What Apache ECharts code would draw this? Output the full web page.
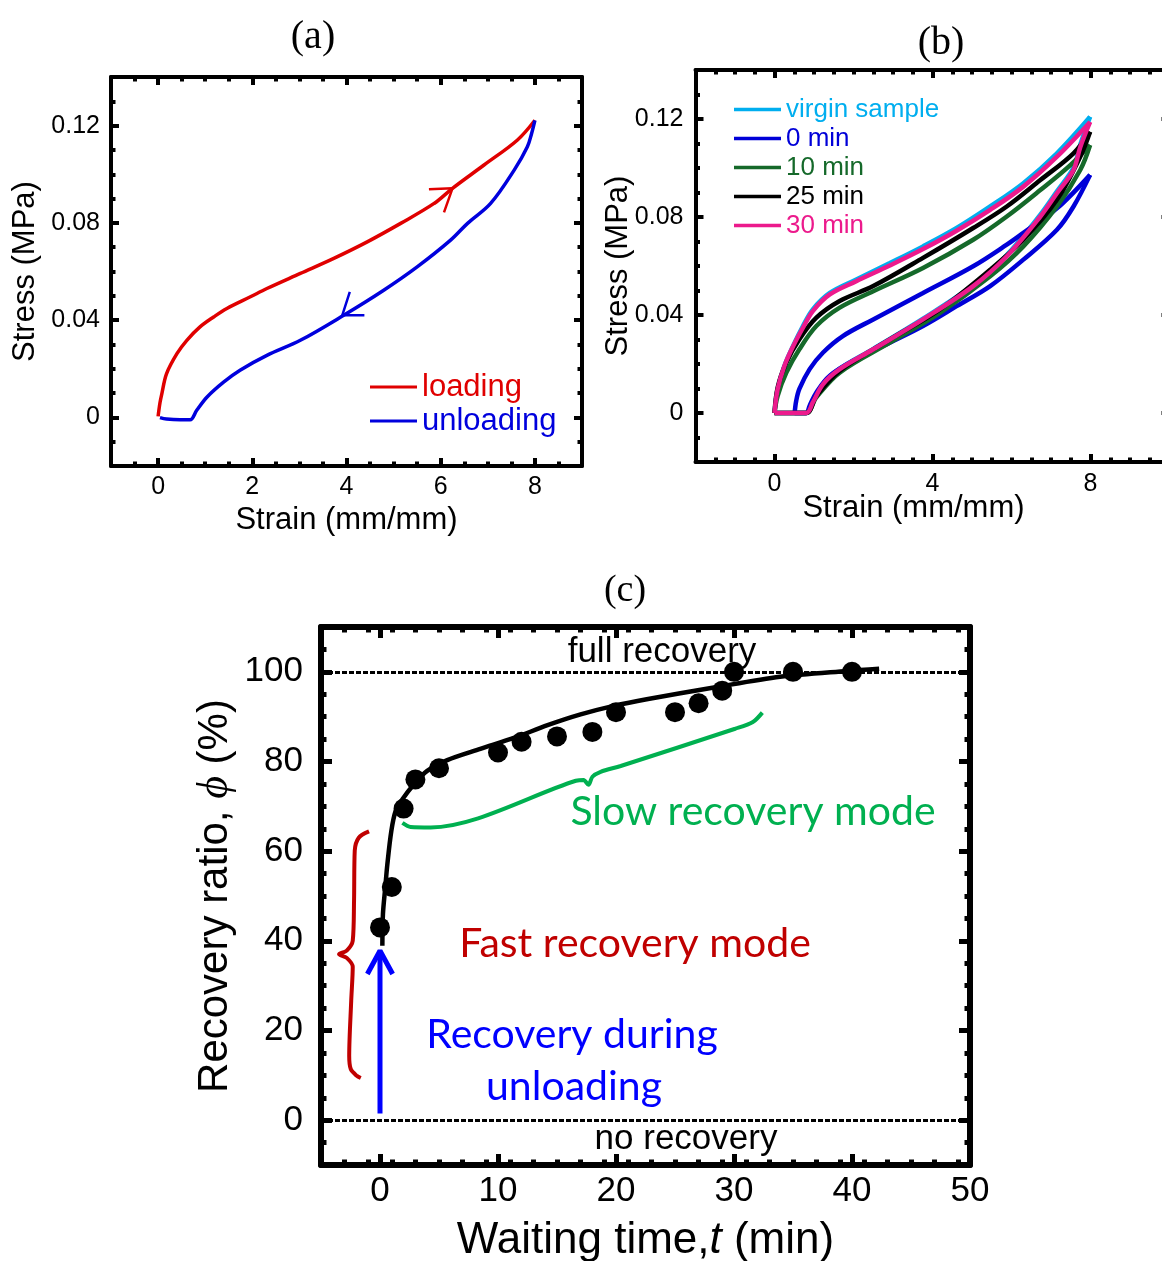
<!DOCTYPE html>
<html>
<head>
<meta charset="utf-8">
<script src="https://cdn.jsdelivr.net/npm/echarts@6/dist/echarts.min.js"></script>
<style>
  html, body { margin: 0; padding: 0; background: #fff; }
  #chart { width: 1162px; height: 1261px; }
</style>
</head>
<body>
<div id="chart"></div>
<script>
// ---------- (a) one loading / unloading cycle ----------
const loadingA = [[0, 0.0004], [0.04, 0.006], [0.08, 0.0098], [0.18, 0.018], [0.4, 0.0262], [0.61, 0.0317], [0.89, 0.0372],
  [1.18, 0.0413], [1.46, 0.0448], [1.96, 0.0496], [2.31, 0.053], [3.02, 0.0592], [3.73, 0.0654],
  [4.44, 0.0722], [5.15, 0.0798], [5.86, 0.088], [6.25, 0.0942], [6.92, 0.1038], [7.63, 0.1141], [8.0, 0.1222]]
const unloadingA = [[8.0, 0.1222], [7.93, 0.1168], [7.84, 0.1113], [7.56, 0.1017], [7.06, 0.088], [6.57, 0.0798],
  [6.21, 0.0729], [5.5, 0.0619], [4.79, 0.0523], [3.94, 0.042], [3.02, 0.0317], [2.31, 0.0255],
  [1.74, 0.0194], [1.39, 0.0145], [1.04, 0.0084], [0.82, 0.0029], [0.68, -0.001], [0.47, -0.001],
  [0.18, -0.0007], [0.04, -0.0001]]
// hand drawn arrow heads on the curves
const arrowLoadA = [[5.75, 0.0938], [6.25, 0.0942], [6.07, 0.0843]]
const arrowUnloadA = [[4.38, 0.042], [3.91, 0.042], [4.07, 0.0516]]

// ---------- (b) cycles after different waiting times ----------
const virginLoad = [[0, 0], [0.08, 0.0098], [0.25, 0.0192], [0.47, 0.0274], [0.72, 0.0355], [0.97, 0.0423],
  [1.4, 0.049], [2.07, 0.0545], [2.92, 0.0612], [3.76, 0.068], [4.61, 0.0755], [5.46, 0.0843],
  [6.3, 0.0938], [7.15, 0.106], [7.99, 0.1209]]
const virginUnload = [[7.99, 0.1209], [7.74, 0.1095], [7.57, 0.1002], [7.15, 0.0905], [6.73, 0.081], [5.88, 0.0645],
  [5.03, 0.0522], [3.76, 0.0385], [2.5, 0.0262], [1.65, 0.0181], [1.23, 0.012], [0.97, 0.0045], [0.8, 0], [0, 0]]
const min0Load = [[0.51, 0], [0.55, 0.005], [0.63, 0.0098], [0.89, 0.0179], [1.23, 0.0247], [1.73, 0.0314],
  [2.5, 0.0382], [3.76, 0.049], [5.03, 0.0599], [5.88, 0.0687], [6.3, 0.0735], [7.15, 0.0835], [7.99, 0.0972]]
const min0Unload = [[7.99, 0.0972], [7.57, 0.0843], [7.15, 0.0748], [6.3, 0.0626], [5.46, 0.0518], [4.61, 0.0436],
  [3.76, 0.0355], [2.92, 0.0287], [2.07, 0.022], [1.4, 0.0152], [1.06, 0.0084], [0.89, 0.003], [0.8, 0], [0.51, 0]]
const min10Load = [[0, 0], [0.08, 0.007], [0.3, 0.0165], [0.63, 0.026], [1.06, 0.0355], [1.65, 0.043],
  [2.5, 0.0497], [3.76, 0.0592], [5.03, 0.0707], [5.88, 0.0802], [6.73, 0.091], [7.49, 0.1012], [7.99, 0.1094]]
const min10Unload = [[7.99, 0.1094], [7.74, 0.0992], [7.15, 0.0843], [6.3, 0.068], [5.46, 0.0558], [4.19, 0.0409],
  [2.92, 0.0287], [1.65, 0.0165], [1.06, 0.0064], [0.8, 0], [0, 0]]
const min25Load = [[0, 0], [0.08, 0.0104], [0.3, 0.0206], [0.63, 0.0301], [1.06, 0.0389], [1.65, 0.0457],
  [2.5, 0.0518], [3.76, 0.0633], [5.03, 0.0755], [5.88, 0.0843], [6.73, 0.0951], [7.57, 0.106], [7.99, 0.1148]]
const min25Unload = [[7.99, 0.1148], [7.74, 0.1046], [7.15, 0.087], [6.3, 0.0707], [5.46, 0.0585], [4.19, 0.0423],
  [2.92, 0.03], [1.65, 0.0172], [1.06, 0.007], [0.8, 0], [0, 0]]
const min30Load = [[0, 0], [0.08, 0.0098], [0.25, 0.0192], [0.47, 0.0272], [0.72, 0.0348], [0.97, 0.0416],
  [1.4, 0.0484], [2.07, 0.0538], [2.92, 0.0602], [3.76, 0.0669], [4.61, 0.0744], [5.46, 0.0829],
  [6.3, 0.0924], [7.15, 0.1046], [7.99, 0.1188]]
const min30Unload = [[7.99, 0.1188], [7.74, 0.1085], [7.57, 0.0992], [7.15, 0.0897], [6.73, 0.0802], [5.88, 0.064],
  [5.03, 0.0518], [3.76, 0.0382], [2.5, 0.026], [1.65, 0.0179], [1.23, 0.0118], [0.97, 0.0043], [0.8, 0], [0, 0]]

// ---------- (c) recovery ratio vs waiting time ----------
const waitTime = [0, 1, 2, 3, 5, 10, 12, 15, 18, 20, 25, 27, 29, 30, 35, 40]
const recoveryRatio = [43, 52, 69.5, 76, 78.5, 82, 84.4, 85.6, 86.6, 91, 91, 93, 95.8, 100, 100, 100]
const fitCurve = [[0.2, 38.9], [0.25, 46], [0.45, 52], [0.62, 57], [0.96, 64.5], [1.33, 69], [1.9, 71.6],
  [2.9, 75], [4, 77.9], [5.7, 80.3], [8.5, 82.8], [11.4, 85.3], [14.2, 88.1], [17, 90.5], [19.8, 92.4],
  [22.6, 93.9], [28.3, 96.5], [33.9, 98.9], [39.6, 100.2], [42.3, 100.7]]
const slowBrace = [[1.9, 66.3], [2.6, 65.4], [4.3, 65.3], [16.6, 75.7], [17.25, 75.9], [17.67, 74.8],
  [18.0, 76.6], [18.7, 77.7], [20.4, 79.0], [30.1, 87.3], [31.6, 88.8], [32.4, 90.9]]
const fastBrace = [[-0.93, 64.4], [-1.8, 63.0], [-2.14, 60.1], [-2.2, 48.9], [-2.31, 40.0], [-2.82, 37.8],
  [-3.47, 37.0], [-2.82, 36.2], [-2.31, 34.2], [-2.44, 26.6], [-2.61, 14.3], [-2.48, 11.4], [-1.97, 9.9], [-1.63, 9.4]]
const arrowShaft = [[0, 1.5], [0, 37.8]]
const arrowHead = [[-1.07, 32.6], [0, 37.8], [1.07, 32.6]]
const refLevels = [100, 0]

// 刻度（主刻度 + 次刻度）
const ticksAx = [0, 2, 4, 6, 8]
const ticksBx = [0, 4, 8]
const ticksStressY = [0, 0.04, 0.08, 0.12]
const ticksCx = [0, 10, 20, 30, 40, 50]
const ticksCy = [0, 20, 40, 60, 80, 100]

const SANS = '"Liberation Sans", Arial, sans-serif'
const SERIF = '"Liberation Serif", "Times New Roman", serif'
const CALI = 'Lato, "Open Sans", sans-serif'

const RED_A = '#e00000'
const BLUE_A = '#0000dd'
const CYAN = '#00aeef'
const BLUE_B = '#0000d8'
const GREEN_B = '#15692a'
const PINK = '#ec1a8c'

/** 次刻度：从 min 到 max 每隔 step，去掉主刻度 */
const minorTicks = (min, max, step, major) => {
  const out = []
  for (let v = min; v <= max + 1e-9; v += step) {
    const r = Math.round(v * 1e6) / 1e6
    if (!major.some((m) => Math.abs(m - r) < 1e-9)) out.push(r)
  }
  return out
}

const xAxis = []
const yAxis = []
const fmt = (v) => String(Math.round(v * 1000) / 1000)

/** 一个方框：四条边都有朝内的主/次刻度，返回主轴的下标 */
const addFrame = (grid, cx, cy, st) => {
  const sides = [
    [xAxis, cx, 'bottom', true],
    [xAxis, cx, 'top', false],
    [yAxis, cy, 'left', true],
    [yAxis, cy, 'right', false]
  ]
  const idx = {}
  sides.forEach(([list, c, pos, main]) => {
    const isX = list === xAxis
    if (main) idx[isX ? 'x' : 'y'] = list.length
    list.push({
      gridIndex: grid,
      type: 'value',
      min: c.min,
      max: c.max,
      position: pos,
      name: main ? c.name : '',
      nameLocation: 'middle',
      nameGap: c.nameGap,
      nameMoveOverlap: false,
      nameTextStyle: Object.assign({ color: '#000', fontFamily: SANS, fontSize: st.nameSize }, c.nameStyle || {}),
      axisLine: { show: true, onZero: false, lineStyle: { color: '#000', width: st.frame } },
      axisTick: { show: true, inside: true, length: st.majorLen, customValues: c.major, lineStyle: { color: '#000', width: st.tickW } },
      minorTick: { show: false },
      axisLabel: main
        ? { show: true, customValues: c.major, formatter: fmt, color: '#000', fontFamily: SANS, fontSize: st.labelSize, margin: c.margin }
        : { show: false },
      splitLine: { show: false }
    })
    list.push({
      gridIndex: grid,
      type: 'value',
      min: c.min,
      max: c.max,
      position: pos,
      axisLine: { show: false, onZero: false },
      axisTick: { show: true, inside: true, length: st.minorLen, customValues: c.minor, lineStyle: { color: '#000', width: st.tickW } },
      axisLabel: { show: false },
      splitLine: { show: false }
    })
  })
  return idx
}

const frameA = addFrame(0,
  { min: -1, max: 9, major: ticksAx, minor: minorTicks(-1, 9, 0.5, ticksAx), name: 'Strain (mm/mm)', nameGap: 39, margin: 9 },
  { min: -0.02, max: 0.14, major: ticksStressY, minor: minorTicks(-0.02, 0.14, 0.01, ticksStressY), name: 'Stress (MPa)', nameGap: 70, margin: 11 },
  { frame: 4, tickW: 4, majorLen: 8, minorLen: 4.5, labelSize: 25, nameSize: 31 })
const frameB = addFrame(1,
  { min: -2, max: 10, major: ticksBx, minor: minorTicks(-2, 10, 0.5, ticksBx), name: 'Strain (mm/mm)', nameGap: 31, margin: 10,
    nameStyle: { padding: [0, 38, 0, 0] } },
  { min: -0.02, max: 0.14, major: ticksStressY, minor: minorTicks(-0.02, 0.14, 0.01, ticksStressY), name: 'Stress (MPa)', nameGap: 62, margin: 12 },
  { frame: 4, tickW: 4, majorLen: 8, minorLen: 4.5, labelSize: 25, nameSize: 31 })
const frameC = addFrame(2,
  { min: -5, max: 50, major: ticksCx, minor: minorTicks(-5, 50, 2, ticksCx).filter((v) => v > -5), name: 'Waiting time,{i|t} (min)', nameGap: 54, margin: 9,
    nameStyle: { fontSize: 44, rich: { i: { fontStyle: 'italic', fontFamily: SANS, fontSize: 44 } } } },
  { min: -10, max: 110, major: ticksCy, minor: minorTicks(-10, 110, 5, ticksCy), name: 'Recovery ratio, {i|ϕ} (%)', nameGap: 84, margin: 18,
    nameStyle: { fontSize: 42, rich: { i: { fontStyle: 'italic', fontFamily: SERIF, fontSize: 44 } } } },
  { frame: 6, tickW: 5, majorLen: 11, minorLen: 5.5, labelSize: 35, nameSize: 42 })

const curve = (name, data, color, frame, width, extra) =>
  Object.assign({
    name,
    type: 'line',
    data,
    xAxisIndex: frame.x,
    yAxisIndex: frame.y,
    showSymbol: false,
    symbol: 'none',
    smooth: 0.35,
    color,
    itemStyle: { color },
    lineStyle: { color, width },
    silent: true
  }, extra || {})

const series = [
  curve('loading', loadingA, RED_A, frameA, 3.5),
  curve('unloading', unloadingA, BLUE_A, frameA, 3.5),
  curve('arrowA1', arrowLoadA, RED_A, frameA, 2.5, { smooth: false }),
  curve('arrowA2', arrowUnloadA, BLUE_A, frameA, 2.5, { smooth: false }),

  curve('virgin sample', virginLoad, CYAN, frameB, 4.5),
  curve('virgin sample', virginUnload, CYAN, frameB, 4.5),
  curve('0 min', min0Load, BLUE_B, frameB, 4.5),
  curve('0 min', min0Unload, BLUE_B, frameB, 4.5),
  curve('10 min', min10Load, GREEN_B, frameB, 4.5),
  curve('10 min', min10Unload, GREEN_B, frameB, 4.5),
  curve('25 min', min25Load, '#000', frameB, 4.5),
  curve('25 min', min25Unload, '#000', frameB, 4.5),
  curve('30 min', min30Load, PINK, frameB, 4.5),
  curve('30 min', min30Unload, PINK, frameB, 4.5),

  curve('fit', fitCurve, '#000', frameC, 4.5, {
    smooth: 0.3,
    markLine: {
      silent: true,
      symbol: ['none', 'none'],
      label: { show: false },
      lineStyle: { color: '#000', width: 3, type: [5, 2], opacity: 1 },
      data: refLevels.map((v) => ({ yAxis: v }))
    }
  }),
  curve('slowBrace', slowBrace, '#00b050', frameC, 4, { smooth: 0.3 }),
  curve('fastBrace', fastBrace, '#c00000', frameC, 4, { smooth: 0.3 }),
  curve('arrowShaft', arrowShaft, '#0000ff', frameC, 5, { smooth: false }),
  curve('arrowHead', arrowHead, '#0000ff', frameC, 5, { smooth: false }),
  {
    name: 'recovery',
    type: 'scatter',
    xAxisIndex: frameC.x,
    yAxisIndex: frameC.y,
    data: waitTime.map((t, i) => [t, recoveryRatio[i]]),
    symbol: 'circle',
    symbolSize: 20,
    itemStyle: { color: '#000', opacity: 1 },
    silent: true,
    z: 5
  }
]

const txt = (text, x, y, size, color, family, extra) => ({
  type: 'text',
  x,
  y,
  silent: true,
  style: Object.assign({
    text,
    fill: color,
    fontSize: size,
    fontFamily: family,
    align: 'center',
    textAlign: 'center',
    verticalAlign: 'middle',
    textVerticalAlign: 'middle'
  }, extra || {})
})

const chart = echarts.init(document.getElementById('chart'), null, { renderer: 'canvas' })
chart.setOption({
  animation: false,
  backgroundColor: '#fff',
  grid: [
    { left: 111, top: 77, width: 471, height: 389, outerBoundsMode: 'none', containLabel: false },
    { left: 695.5, top: 70, width: 474, height: 392, outerBoundsMode: 'none', containLabel: false },
    { left: 321, top: 627, width: 649, height: 538, outerBoundsMode: 'none', containLabel: false }
  ],
  xAxis,
  yAxis,
  legend: [
    {
      data: [{ name: 'loading', textStyle: { color: RED_A } }, { name: 'unloading', textStyle: { color: BLUE_A } }],
      left: 370, top: 370, orient: 'vertical', icon: 'rect', itemWidth: 47, itemHeight: 3, itemGap: 0, padding: 0,
      selectedMode: false,
      textStyle: { fontFamily: SANS, fontSize: 31, lineHeight: 34 }
    },
    {
      data: [
        { name: 'virgin sample', textStyle: { color: CYAN } },
        { name: '0 min', textStyle: { color: BLUE_B } },
        { name: '10 min', textStyle: { color: GREEN_B } },
        { name: '25 min', textStyle: { color: '#000' } },
        { name: '30 min', textStyle: { color: PINK } }
      ],
      left: 734, top: 95, orient: 'vertical', icon: 'rect', itemWidth: 47, itemHeight: 3.5, itemGap: 0, padding: 0,
      selectedMode: false,
      textStyle: { fontFamily: SANS, fontSize: 26, lineHeight: 29 }
    }
  ],
  graphic: [
    txt('(a)', 313, 37, 40, '#000', SERIF),
    txt('(b)', 941, 43, 40, '#000', SERIF),
    txt('(c)', 625, 591, 38, '#000', SERIF),
    txt('full recovery', 662, 652, 35, '#000', SANS),
    txt('no recovery', 686, 1139, 35, '#000', SANS),
    txt('Slow recovery mode', 753, 812, 41, '#00b050', CALI),
    txt('Fast recovery mode', 635, 944, 41, '#c00000', CALI),
    txt('Recovery during', 572, 1035, 41, '#0000ff', CALI),
    txt('unloading', 574, 1087, 41, '#0000ff', CALI)
  ],
  series
})
</script>
</body>
</html>
